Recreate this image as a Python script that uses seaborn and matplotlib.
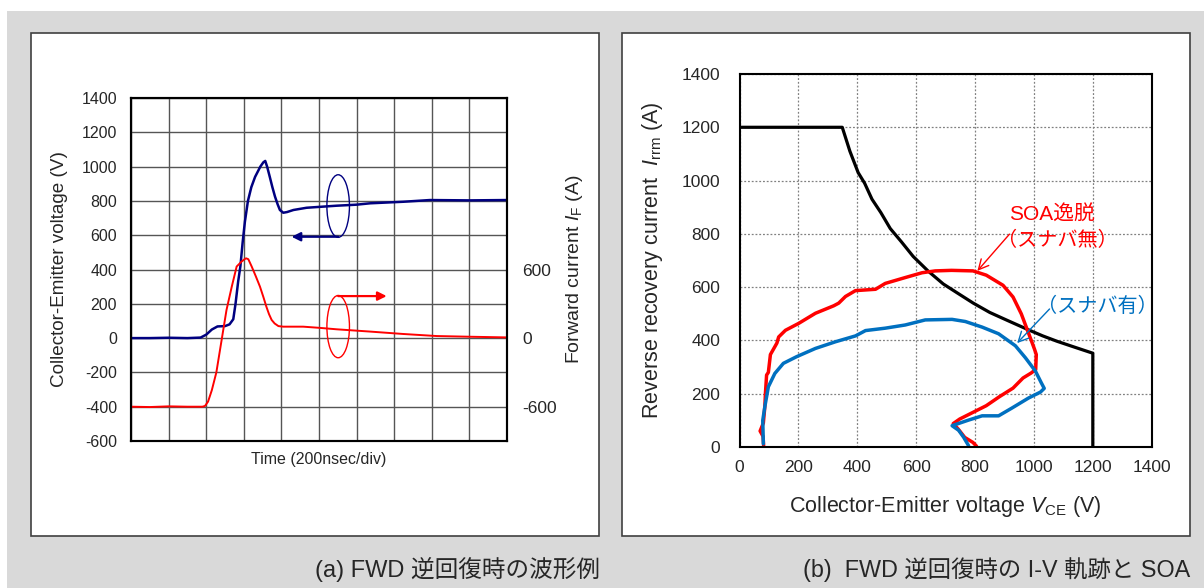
import numpy as np
import pandas as pd
import matplotlib
matplotlib.use('Agg')
import matplotlib.pyplot as plt
import seaborn as sns
from matplotlib.patches import Ellipse, Rectangle
from matplotlib.ticker import MultipleLocator

# ---------------- Panel (a): waveforms ----------------
# time in divisions (200 ns/div)
time_v = [0, 0.5, 1.0, 1.5, 1.85, 2.0, 2.15, 2.3, 2.5, 2.62, 2.72, 2.78, 2.85, 2.91, 2.97,
          3.03, 3.11, 3.2, 3.3, 3.44, 3.52, 3.57, 3.62, 3.69, 3.76, 3.83, 3.9, 3.96,
          4.05, 4.15, 4.32, 4.67, 5.0, 5.47, 6.0, 6.36, 7.24, 7.95, 9.0, 10.0]
vce_a = [0, 0, 2, 0, 3, 20, 50, 68, 70, 80, 110, 200, 330, 420, 560,
         680, 800, 880, 940, 1000, 1025, 1033, 1000, 941, 880, 825, 780, 747,
         731, 735, 747, 760, 765, 772, 778, 786, 795, 805, 803, 805]

time_i = [0, 0.5, 1.0, 1.5, 1.9, 1.97, 2.05, 2.15, 2.27, 2.41, 2.54, 2.68, 2.81, 2.94,
          3.02, 3.06, 3.12, 3.21, 3.32, 3.43, 3.52, 3.6, 3.67, 3.74, 3.82, 3.92,
          4.05, 4.58, 5.0, 5.47, 6.36, 7.24, 8.13, 9.0, 10.0]
if_a = [-600, -603, -597, -600, -600, -593, -555, -455, -300, -17, 246, 450, 626, 669,
        690, 698, 690, 626, 540, 450, 360, 275, 210, 159, 128, 105,
        100, 100, 90, 77, 57, 36, 18, 12, 6]

# ---------------- Panel (b): I-V trajectories and SOA ----------------
soa_v = [0, 349, 375, 403, 425, 450, 480, 512, 550, 590, 641, 692, 740, 794, 850,
         908, 981, 1030, 1078, 1140, 1200, 1200]
soa_i = [1200, 1200, 1110, 1030, 990, 930, 880, 820, 770, 715, 660, 612, 578, 540, 505,
         476, 440, 417, 397, 374, 352, 0]

nosnub_v = [82, 80, 70, 81, 86, 88, 92, 98, 105, 127, 133, 156, 201, 258, 320, 337, 360,
            394, 462, 495, 563, 620, 665, 720, 793, 838, 895, 929, 957, 974, 991,
            1002, 1008, 1006, 991, 963, 929, 883, 838, 793, 748, 726, 743, 765, 793, 805]
nosnub_i = [5, 40, 60, 90, 151, 200, 270, 280, 347, 390, 413, 438, 464, 502, 530, 540, 565,
            587, 592, 614, 636, 654, 661, 663, 661, 645, 607, 563, 500, 450, 400,
            367, 347, 291, 278, 259, 221, 189, 155, 130, 105, 88, 67, 36, 17, 3]

snub_v = [81, 79, 86, 98, 120, 149, 194, 258, 326, 394, 428, 495, 563, 631, 722, 767,
          824, 880, 937, 971, 1005, 1025, 1035, 1022, 982, 925, 880, 824, 778, 722,
          744, 761, 778]
snub_i = [12, 100, 151, 226, 276, 314, 339, 370, 395, 417, 437, 446, 458, 477, 479, 471,
          450, 425, 380, 335, 285, 241, 220, 206, 184, 146, 117, 117, 101, 80,
          63, 37, 5]

# ---------------- style ----------------
sns.set_style('white')
plt.rcParams['font.family'] = ['Liberation Sans', 'Noto Sans CJK JP']
plt.rcParams['mathtext.fontset'] = 'custom'
plt.rcParams['mathtext.rm'] = 'Liberation Sans'
plt.rcParams['mathtext.it'] = 'Liberation Sans:italic'
plt.rcParams['axes.unicode_minus'] = False
plt.rcParams['lines.solid_joinstyle'] = 'round'

W, H = 1204, 588
fig = plt.figure(figsize=(W / 100, H / 100), dpi=100, facecolor='#d9d9d9')


def px_rect(x0, y0, x1, y1, **kw):
    return Rectangle((x0 / W, 1 - y1 / H), (x1 - x0) / W, (y1 - y0) / H,
                     transform=fig.transFigure, **kw)


fig.add_artist(px_rect(0, 0, W, 11, facecolor='white', edgecolor='none', zorder=-5))
fig.add_artist(px_rect(0, 0, 7, H, facecolor='white', edgecolor='none', zorder=-5))
fig.add_artist(px_rect(31, 33, 599, 536, facecolor='white', edgecolor='#404040', lw=1.2, zorder=-4))
fig.add_artist(px_rect(622, 33, 1190, 536, facecolor='white', edgecolor='#404040', lw=1.2, zorder=-4))

# ---------------- left panel ----------------
ax1 = fig.add_axes([131 / W, 1 - 441 / H, 376 / W, 343 / H])
sns.lineplot(x=time_v, y=vce_a, ax=ax1, color='#000080', lw=1.8, sort=False, estimator=None)
ax1.set_xlim(0, 10)
ax1.set_ylim(-600, 1400)
ax1.set_xticks(range(11))
ax1.set_yticks(range(-600, 1401, 200))
ax1.grid(True, color='#555555', lw=1.0)
ax1.tick_params(length=0, labelsize=11.5, pad=10)
ax1.tick_params(axis='x', labelbottom=False)
for s in ax1.spines.values():
    s.set_color('black')
    s.set_linewidth(1.5)
ax1.set_xlabel('Time (200nsec/div)', fontsize=11.5, labelpad=8)
ax1.set_ylabel('Collector-Emitter voltage (V)', fontsize=13.6, labelpad=10)

ax1.add_patch(Ellipse((5.51, 770), 0.6, 365, fill=False, edgecolor='#000080', lw=1.0, zorder=5))
ax1.add_patch(Ellipse((5.51, 67), 0.6, 363, fill=False, edgecolor='red', lw=1.0, zorder=5))
ax1.annotate('', xy=(4.27, 591), xytext=(5.51, 591),
             arrowprops=dict(arrowstyle='-|>', color='#000080', lw=1.6, mutation_scale=13,
                             shrinkA=0, shrinkB=0))
ax1.annotate('', xy=(6.8, 245), xytext=(5.51, 245),
             arrowprops=dict(arrowstyle='-|>', color='red', lw=1.6, mutation_scale=13,
                             shrinkA=0, shrinkB=0))

ax2 = ax1.twinx()
sns.lineplot(x=time_i, y=if_a, ax=ax2, color='#ff0000', lw=1.4, sort=False, estimator=None)
ax2.set_ylim(-900, 2100)
ax2.set_yticks([-600, 0, 600])
ax2.grid(False)
ax2.tick_params(length=0, labelsize=12.5, pad=11)
for s in ax2.spines.values():
    s.set_color('black')
    s.set_linewidth(1.5)
ax2.set_ylabel('Forward current $\\mathit{I}_\\mathrm{F}$ (A)', fontsize=14, labelpad=5)

# ---------------- right panel ----------------
ax3 = fig.add_axes([739.5 / W, 1 - 447 / H, 412.2 / W, 373 / H])
sns.lineplot(x=soa_v, y=soa_i, ax=ax3, color='black', lw=2.3, sort=False, estimator=None)
sns.lineplot(x=nosnub_v, y=nosnub_i, ax=ax3, color='#ff0000', lw=2.5, sort=False, estimator=None)
sns.lineplot(x=snub_v, y=snub_i, ax=ax3, color='#0070c0', lw=2.5, sort=False, estimator=None)
ax3.set_xlim(0, 1400)
ax3.set_ylim(0, 1400)
ax3.set_xticks(range(0, 1401, 200))
ax3.set_yticks(range(0, 1401, 200))
ax3.xaxis.set_minor_locator(MultipleLocator(50))
ax3.grid(True, which='major', color='#808080', lw=0.9, ls=(0, (1.5, 1.5)))
ax3.tick_params(axis='x', which='both', direction='in', length=4, width=1, color='black')
ax3.tick_params(axis='x', which='major', labelsize=12.5, pad=9)
ax3.tick_params(axis='y', direction='in', length=0, labelsize=12.5, pad=14)
for s in ax3.spines.values():
    s.set_color('black')
    s.set_linewidth(1.5)
ax3.set_xlabel('Collector-Emitter voltage $\\mathit{V}_\\mathrm{CE}$ (V)', fontsize=15.5, labelpad=14)
ax3.set_ylabel('Reverse recovery current  $\\mathit{I}_\\mathrm{rrm}$ (A)', fontsize=15.5, labelpad=12)

ax3.text(1060, 870, 'SOA逸脱', color='#ff0000', fontsize=15, ha='center', va='center')
ax3.text(1079, 777, '（スナバ無）', color='#ff0000', fontsize=14.5, ha='center', va='center')
ax3.annotate('', xy=(808, 661), xytext=(917, 799),
             arrowprops=dict(arrowstyle='->', color='#ff0000', lw=1.0, mutation_scale=18,
                             shrinkA=0, shrinkB=0))
ax3.text(1216, 526, '（スナバ有）', color='#0070c0', fontsize=14.5, ha='center', va='center')
ax3.annotate('', xy=(943, 390), xytext=(1053, 518),
             arrowprops=dict(arrowstyle='->', color='#0070c0', lw=1.0, mutation_scale=18,
                             shrinkA=0, shrinkB=0))

# ---------------- captions ----------------
fig.text(600 / W, 1 - 570 / H, '(a) FWD 逆回復時の波形例', ha='right', va='center', fontsize=17)
fig.text(1190 / W, 1 - 570 / H, '(b)  FWD 逆回復時の I-V 軌跡と SOA', ha='right', va='center', fontsize=16.8)

fig.savefig('out.png', dpi=100, facecolor=fig.get_facecolor())
